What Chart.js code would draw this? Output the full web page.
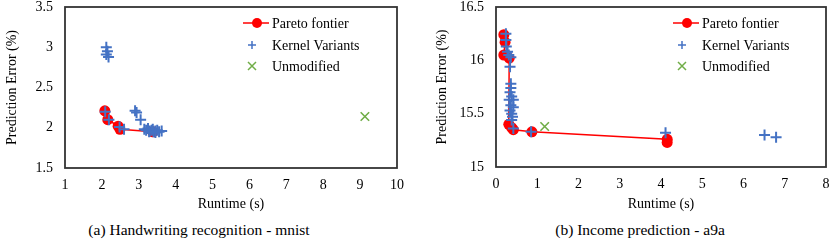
<!DOCTYPE html>
<html>
<head>
<meta charset="utf-8">
<script src="https://cdn.jsdelivr.net/npm/chart.js@4"></script>
<style>
  body { margin: 0; background: #fff; width: 830px; height: 240px; position: relative; overflow: hidden; }
  canvas { position: absolute; top: 0; }
  #c1 { left: 0; }
  #c2 { left: 430px; }
  .caption { position: absolute; top: 221px; font-family: "Liberation Serif", "Times New Roman", serif; font-size: 15.5px; color: #000; white-space: nowrap; transform: translateX(-50%); }
</style>
</head>
<body>
<canvas id="c1" width="415" height="215"></canvas>
<canvas id="c2" width="400" height="215"></canvas>
<div class="caption" style="left:199px">(a) Handwriting recognition - mnist</div>
<div class="caption" style="left:640px">(b) Income prediction - a9a</div>
<script>
const legendLabels = ["Pareto fontier", "Kernel Variants", "Unmodified"];
const xTitle = "Runtime (s)";
const yTitle = "Prediction Error (%)";

//~==== (a) mnist ====~//
const mnistPareto = [
  { x: 2.08, y: 2.21 }, { x: 2.16, y: 2.10 }, { x: 2.44, y: 2.02 },
  { x: 2.49, y: 1.98 }, { x: 3.38, y: 1.95 }
];
const mnistKernel = [
  { x: 2.12, y: 3.00 }, { x: 2.15, y: 2.95 }, { x: 2.12, y: 2.91 }, { x: 2.18, y: 2.88 },
  { x: 2.09, y: 2.20 }, { x: 2.19, y: 2.10 }, { x: 2.48, y: 2.01 }, { x: 2.60, y: 1.98 },
  { x: 2.90, y: 2.21 }, { x: 2.94, y: 2.19 }, { x: 3.05, y: 2.10 },
  { x: 3.15, y: 1.98 }, { x: 3.20, y: 1.97 }, { x: 3.25, y: 1.99 }, { x: 3.30, y: 1.96 },
  { x: 3.35, y: 1.97 }, { x: 3.40, y: 1.95 }, { x: 3.45, y: 1.96 }, { x: 3.50, y: 1.97 },
  { x: 3.55, y: 1.95 }, { x: 3.62, y: 1.96 }, { x: 3.38, y: 1.98 }, { x: 3.28, y: 1.95 },
  { x: 3.45, y: 1.94 }
];
const mnistUnmod = [{ x: 9.13, y: 2.14 }];
const mnistXTicks = [1, 2, 3, 4, 5, 6, 7, 8, 9, 10];
const mnistYTicks = [1.5, 2, 2.5, 3, 3.5];

//~==== (b) a9a ====~//
const a9aPareto = [
  { x: 0.19, y: 16.24 }, { x: 0.22, y: 16.17 }, { x: 0.19, y: 16.05 }, { x: 0.32, y: 16.02 },
  { x: 0.31, y: 15.40 }, { x: 0.38, y: 15.37 }, { x: 0.42, y: 15.35 }, { x: 0.87, y: 15.33 },
  { x: 4.15, y: 15.26 }, { x: 4.15, y: 15.23 }
];
const a9aKernel = [
  { x: 0.24, y: 16.25 }, { x: 0.24, y: 16.19 }, { x: 0.25, y: 16.13 }, { x: 0.28, y: 16.08 },
  { x: 0.31, y: 16.05 }, { x: 0.36, y: 16.03 }, { x: 0.34, y: 15.94 }, { x: 0.36, y: 15.78 },
  { x: 0.36, y: 15.74 }, { x: 0.34, y: 15.70 }, { x: 0.38, y: 15.66 }, { x: 0.32, y: 15.63 },
  { x: 0.42, y: 15.63 }, { x: 0.36, y: 15.58 }, { x: 0.42, y: 15.56 }, { x: 0.34, y: 15.53 },
  { x: 0.38, y: 15.50 }, { x: 0.40, y: 15.47 }, { x: 0.38, y: 15.44 }, { x: 0.42, y: 15.36 },
  { x: 0.85, y: 15.33 }, { x: 4.11, y: 15.32 }, { x: 6.51, y: 15.30 }, { x: 6.79, y: 15.28 }
];
const a9aUnmod = [{ x: 1.18, y: 15.38 }];
const a9aXTicks = [0, 1, 2, 3, 4, 5, 6, 7, 8];
const a9aYTicks = [15, 15.5, 16, 16.5];

const RED = "#FF0000";
const BLUE = "#4472C4";
const GREEN = "#70AD47";
const FONT = "'Liberation Serif', 'Times New Roman', serif";

//!==== frame + legend drawn inside the plot ====!//
const framePlugin = {
  id: "frame",
  beforeDatasetsDraw(chart) {
    const a = chart.chartArea;
    const ctx = chart.ctx;
    ctx.save();
    ctx.strokeStyle = "#333";
    ctx.lineWidth = 1.8;
    ctx.strokeRect(a.left, a.top, a.right - a.left, a.bottom - a.top);
    ctx.restore();
  },
  afterDraw(chart) {
    const ctx = chart.ctx;
    const rows = [23, 45, 66];
    ctx.save();
    // pareto: line + dot
    ctx.strokeStyle = RED;
    ctx.lineWidth = 1.5;
    ctx.beginPath();
    ctx.moveTo(243, rows[0]);
    ctx.lineTo(269, rows[0]);
    ctx.stroke();
    ctx.fillStyle = RED;
    ctx.beginPath();
    ctx.arc(257, rows[0], 5, 0, Math.PI * 2);
    ctx.fill();
    // kernel: plus
    ctx.strokeStyle = BLUE;
    ctx.lineWidth = 1.5;
    ctx.beginPath();
    ctx.moveTo(248, rows[1]); ctx.lineTo(256, rows[1]);
    ctx.moveTo(252, rows[1] - 4); ctx.lineTo(252, rows[1] + 4);
    ctx.stroke();
    // unmodified: x
    ctx.strokeStyle = GREEN;
    ctx.beginPath();
    ctx.moveTo(248, rows[2] - 4); ctx.lineTo(256, rows[2] + 4);
    ctx.moveTo(256, rows[2] - 4); ctx.lineTo(248, rows[2] + 4);
    ctx.stroke();
    ctx.fillStyle = "#000";
    ctx.font = "14px " + FONT;
    ctx.textBaseline = "middle";
    ctx.textAlign = "left";
    for (let i = 0; i < legendLabels.length; i++) {
      ctx.fillText(legendLabels[i], 272, rows[i] + 1);
    }
    ctx.restore();
  }
};

function drawChart(id, pareto, kernel, unmod, xTicks, yTicks, yWidth, xHeight, padRight) {
  return new Chart(document.getElementById(id), {
    type: "scatter",
    data: {
      datasets: [
        {
          label: legendLabels[1],
          data: kernel,
          pointStyle: "cross",
          pointRadius: 5.5,
          borderColor: BLUE,
          borderWidth: 2,
          order: 0
        },
        {
          label: legendLabels[0],
          data: pareto,
          showLine: true,
          borderColor: RED,
          borderWidth: 1.5,
          backgroundColor: RED,
          pointRadius: 5.5,
          pointBorderWidth: 0,
          order: 1
        },
        {
          label: legendLabels[2],
          data: unmod,
          pointStyle: "crossRot",
          pointRadius: 6,
          borderColor: GREEN,
          borderWidth: 1.6,
          order: 2
        }
      ]
    },
    options: {
      responsive: false,
      animation: false,
      devicePixelRatio: 1,
      layout: { autoPadding: false, padding: { top: 7, right: padRight, left: 0, bottom: 0 } },
      plugins: { legend: { display: false }, tooltip: { enabled: false } },
      scales: {
        x: {
          type: "linear",
          min: xTicks[0],
          max: xTicks[xTicks.length - 1],
          afterBuildTicks: (s) => { s.ticks = xTicks.map((v) => ({ value: v })); },
          // fixed axis size, no extra label padding
          afterFit: (s) => { s.height = xHeight; s.paddingLeft = 0; s.paddingRight = 0; },
          grid: { display: false, drawTicks: false },
          border: { display: false },
          ticks: { color: "#000", font: { family: FONT, size: 14 }, padding: 9, maxRotation: 0, callback: (v) => String(v) },
          title: { display: true, text: xTitle, color: "#000", font: { family: FONT, size: 14 }, padding: { top: 0, bottom: 2 } }
        },
        y: {
          type: "linear",
          min: yTicks[0],
          max: yTicks[yTicks.length - 1],
          afterBuildTicks: (s) => { s.ticks = yTicks.map((v) => ({ value: v })); },
          afterFit: (s) => { s.width = yWidth; s.paddingTop = 0; s.paddingBottom = 0; },
          grid: { display: false, drawTicks: false },
          border: { display: false },
          ticks: { color: "#000", font: { family: FONT, size: 14, lineHeight: 1 }, padding: 12, callback: (v) => String(v) },
          title: { display: true, text: yTitle, color: "#000", font: { family: FONT, size: 14 }, padding: { top: 4, bottom: 0 } }
        }
      }
    },
    plugins: [framePlugin]
  });
}

drawChart("c1", mnistPareto, mnistKernel, mnistUnmod, mnistXTicks, mnistYTicks, 65, 47, 18);
drawChart("c2", a9aPareto, a9aKernel, a9aUnmod, a9aXTicks, a9aYTicks, 66, 48, 4);
</script>
</body>
</html>
